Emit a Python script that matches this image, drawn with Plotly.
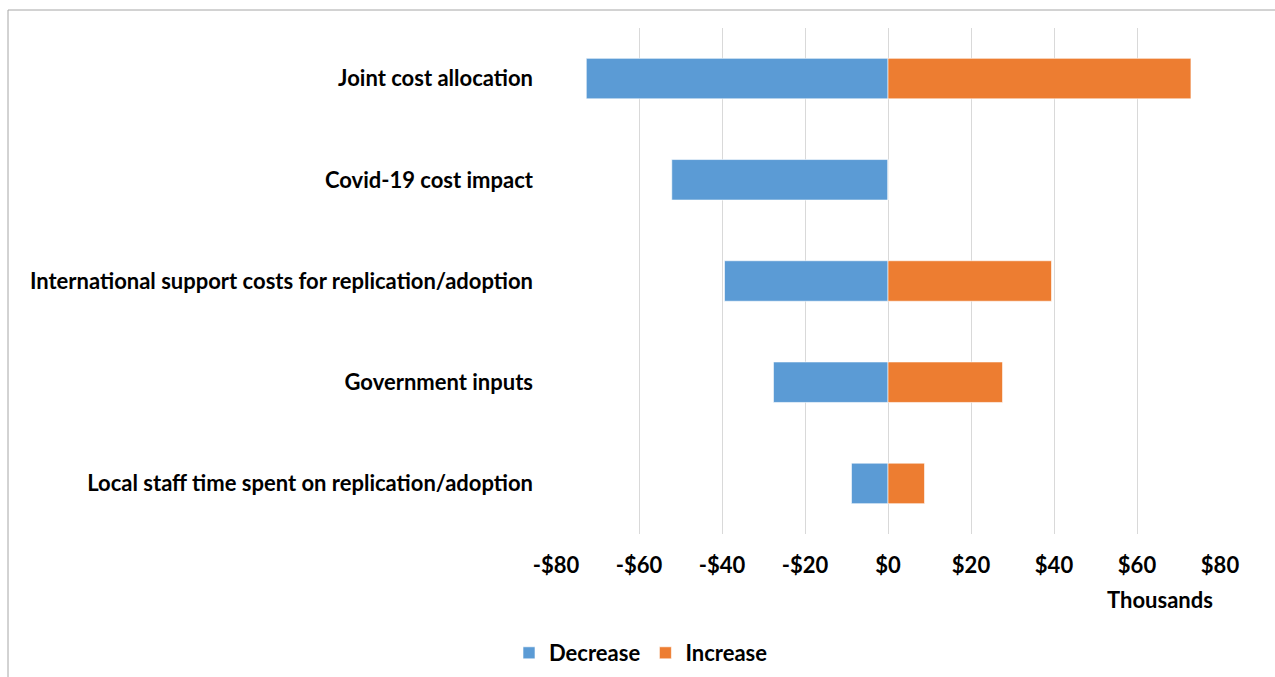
import plotly.graph_objects as go

categories = [
    "Joint cost allocation",
    "Covid-19 cost impact",
    "International support costs for replication/adoption",
    "Government inputs",
    "Local staff time spent on replication/adoption",
]
decrease = [-72.7, -52.1, -39.4, -27.6, -8.8]
increase = [73.0, 0.0, 39.4, 27.6, 8.8]
tick_vals = [-80, -60, -40, -20, 0, 20, 40, 60, 80]
tick_labels = ["-$80", "-$60", "-$40", "-$20", "$0", "$20", "$40", "$60", "$80"]

W, H = 1275, 677
L, R, T, B = 556, 55, 28, 143
pw, ph = W - L - R, H - T - B

def px_x(px):
    return (px - L) / pw

def px_y(py):
    return (H - B - py) / ph

FONT = "Lato"
FS = 22
blue = "#5B9BD5"
orange = "#ED7D31"

fig = go.Figure()
fig.add_trace(go.Bar(
    y=categories, x=decrease, orientation="h", name="Decrease",
    marker=dict(color=blue, line=dict(color="rgba(255,255,255,0.6)", width=1)),
    width=0.4,
))
fig.add_trace(go.Bar(
    y=categories, x=increase, orientation="h", name="Increase",
    marker=dict(color=orange, line=dict(color="rgba(255,255,255,0.6)", width=1)),
    width=0.4,
))

fig.update_layout(
    width=W, height=H,
    margin=dict(l=L, r=R, t=T, b=B, pad=0, autoexpand=False),
    barmode="relative",
    plot_bgcolor="white", paper_bgcolor="white",
    font=dict(family=FONT, size=FS, color="black", weight="bold"),
    showlegend=True,
    legend=dict(
        orientation="h", xref="container", x=641 / W, xanchor="center",
        yref="container", y=1 - 653 / H, yanchor="middle",
        font=dict(family=FONT, size=FS, color="black", weight="bold"),
        itemwidth=30, traceorder="normal",
    ),
    xaxis=dict(
        range=[-80, 80], tickvals=tick_vals, ticktext=tick_labels,
        showgrid=True, gridcolor="#D9D9D9", gridwidth=1,
        zeroline=False, showline=False, ticks="",
        ticklabelstandoff=16,
        tickfont=dict(family=FONT, size=FS, color="black", weight="bold"),
    ),
    yaxis=dict(
        categoryorder="array", categoryarray=categories, autorange="reversed",
        showgrid=False, zeroline=False, showline=False, ticks="",
        ticklabelstandoff=22,
        tickfont=dict(family=FONT, size=FS, color="black", weight="bold"),
    ),
    annotations=[dict(
        text="Thousands", xref="paper", yref="paper",
        x=px_x(1215), xanchor="right", y=px_y(599), yanchor="middle",
        showarrow=False, font=dict(family=FONT, size=FS, color="black", weight="bold"),
    )],
    shapes=[
        dict(type="line", xref="paper", yref="paper",
             x0=px_x(8), x1=px_x(1290), y0=px_y(10), y1=px_y(10),
             line=dict(color="#A6A6A6", width=1)),
        dict(type="line", xref="paper", yref="paper",
             x0=px_x(8), x1=px_x(8), y0=px_y(10), y1=px_y(700),
             line=dict(color="#A6A6A6", width=1)),
    ],
)

fig.write_html("out.html")
